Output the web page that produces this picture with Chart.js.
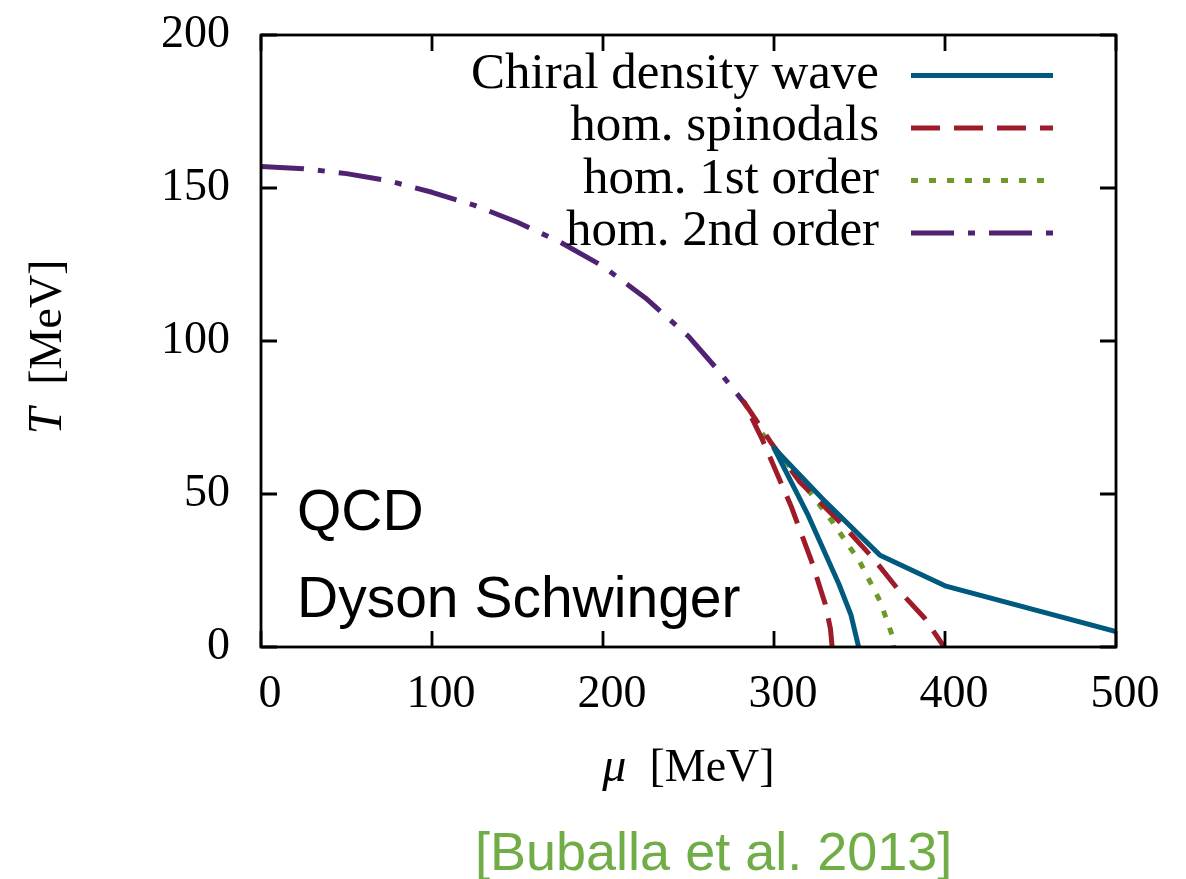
<!DOCTYPE html>
<html>
<head>
<meta charset="utf-8">
<title>QCD phase diagram - Dyson Schwinger</title>
<style>
    html, body { margin: 0; padding: 0; background: #fff; }
    #phase { display: block; }
</style>
<script src="https://cdn.jsdelivr.net/npm/chart.js@4.4.1/dist/chart.umd.min.js"></script>
</head>
<body>
<canvas id="phase" width="1186" height="879"></canvas>
<script>
"use strict";

// axes
var muTicks = [ 0, 100, 200, 300, 400, 500 ];
var tTicks  = [ 0, 50, 100, 150, 200 ];

// series names (legend order)
var seriesNames = [ "Chiral density wave", "hom. spinodals", "hom. 1st order", "hom. 2nd order" ];

// chiral density wave: lower branch up to the tip, then the upper branch out to 500
var cdwMu = [ 349.5, 345, 338, 320, 300, 330, 362, 400, 500 ];
var cdwT  = [ 0, 10.5, 20.5, 43, 65, 47.5, 30, 20, 5 ];

// homogeneous spinodals: left branch up to the critical point, then right branch down
var spinMu = [ 334, 333, 330, 322, 310, 293, 282.5, 298, 315, 340, 358, 373, 388, 399.5 ];
var spinT  = [ 0, 6, 14, 28, 46, 68, 80, 67, 54, 40, 29, 18.5, 9.5, 0 ];

// homogeneous first order line
var firstMu = [ 282.5, 292, 315, 334, 350, 362, 369, 370 ];
var firstT  = [ 80, 70.5, 55, 41, 28, 15, 4, 0 ];

// homogeneous second order line
var secondMu = [ 0, 25, 50, 75, 100, 125, 150, 175, 200, 225, 250, 268, 283 ];
var secondT  = [ 157, 156.3, 154.7, 152.3, 148.6, 144.3, 138.8, 132.3, 124.4, 114, 101.5, 90, 79.5 ];

var serif = "'Liberation Serif', 'Times New Roman', serif";
var sans  = "'Liberation Sans', Arial, sans-serif";

function toPoints(xs, ys) {
    return xs.map(function (x, i) {
        return { x: x, y: ys[ i ] };
    });
}

// frame with inward ticks on all four sides (gnuplot style)
var framePlugin = {
    id: "frame",
    afterDatasetsDraw: function (chart) {
        var ctx = chart.ctx, a = chart.chartArea;
        var xs = chart.scales.x, ys = chart.scales.y;
        var tick = 16;
        ctx.save();
        ctx.strokeStyle = "#000";
        ctx.lineWidth = 2.8;
        ctx.beginPath();
        muTicks.forEach(function (v) {
            var px = xs.getPixelForValue(v);
            ctx.moveTo(px, a.bottom); ctx.lineTo(px, a.bottom - tick);
            ctx.moveTo(px, a.top);    ctx.lineTo(px, a.top + tick);
        });
        tTicks.forEach(function (v) {
            var py = ys.getPixelForValue(v);
            ctx.moveTo(a.left, py);  ctx.lineTo(a.left + tick, py);
            ctx.moveTo(a.right, py); ctx.lineTo(a.right - tick, py);
        });
        ctx.stroke();
        ctx.strokeRect(a.left, a.top, a.right - a.left, a.bottom - a.top);
        ctx.restore();
    }
};

// key in the upper right, text left of the sample line
var keyPlugin = {
    id: "key",
    afterDraw: function (chart) {
        var ctx = chart.ctx;
        ctx.save();
        chart.data.datasets.forEach(function (ds, i) {
            var y = 75.5 + i * 52.5;
            ctx.font = "51px " + serif;
            ctx.fillStyle = "#000";
            ctx.textAlign = "right";
            ctx.textBaseline = "alphabetic";
            ctx.fillText(ds.label, 879, y + 12);
            ctx.strokeStyle = ds.borderColor;
            ctx.lineWidth = ds.borderWidth;
            ctx.lineCap = "butt";
            ctx.setLineDash(ds.borderDash || []);
            ctx.beginPath();
            ctx.moveTo(911, y);
            ctx.lineTo(1053, y);
            ctx.stroke();
        });
        ctx.restore();
    }
};

// axis titles and annotations
var labelPlugin = {
    id: "labels",
    afterDraw: function (chart) {
        var ctx = chart.ctx, a = chart.chartArea;
        ctx.save();
        ctx.fillStyle = "#000";
        ctx.textBaseline = "alphabetic";
        ctx.textAlign = "left";

        // x title: italic mu + [MeV]
        var it = "italic 48px " + serif, rm = "46px " + serif;
        ctx.font = it;
        var w1 = ctx.measureText("\u03bc").width;
        ctx.font = rm;
        var w2 = ctx.measureText("  [MeV]").width;
        var x0 = (a.left + a.right) / 2 - (w1 + w2) / 2;
        ctx.font = it;
        ctx.fillText("\u03bc", x0, 781);
        ctx.font = rm;
        ctx.fillText("  [MeV]", x0 + w1, 781);

        // y title, rotated
        ctx.save();
        ctx.translate(61, (a.top + a.bottom) / 2 + 6);
        ctx.rotate(-Math.PI / 2);
        ctx.font = it;
        var v1 = ctx.measureText("T").width;
        ctx.font = rm;
        var v2 = ctx.measureText("  [MeV]").width;
        var y0 = -(v1 + v2) / 2;
        ctx.font = it;
        ctx.fillText("T", y0, 0);
        ctx.font = rm;
        ctx.fillText("  [MeV]", y0 + v1, 0);
        ctx.restore();

        ctx.font = "57px " + sans;
        ctx.fillText("QCD", 297, 530);
        ctx.fillText("Dyson Schwinger", 297, 617);

        ctx.font = "54px " + sans;
        ctx.fillStyle = "#70ad47";
        ctx.fillText("[Buballa et al. 2013]", 475, 870);
        ctx.restore();
    }
};

var PhaseDiagram = function () {
    "use strict";

    var build = function () {
        var colors = [ "#005a7d", "#9e1b2a", "#6b9a28", "#4f2371" ];
        var dashes = [ [], [ 29, 14 ], [ 7, 11 ], [ 43, 14, 7, 14 ] ];
        var series = [
            toPoints(cdwMu, cdwT),
            toPoints(spinMu, spinT),
            toPoints(firstMu, firstT),
            toPoints(secondMu, secondT)
        ];

        var datasets = series.map(function (pts, i) {
            return {
                label          : seriesNames[ i ],
                data           : pts,
                showLine       : true,
                borderColor    : colors[ i ],
                backgroundColor: colors[ i ],
                borderWidth    : 5,
                borderDash     : dashes[ i ],
                borderCapStyle : "butt",
                borderJoinStyle: "round",
                pointRadius    : 0,
                tension        : 0,
                fill           : false
            };
        });

        new Chart(document.getElementById("phase"), {
            type   : "scatter",
            data   : { datasets: datasets },
            plugins: [ framePlugin, keyPlugin, labelPlugin ],
            options: {
                responsive: false,
                animation : false,
                events    : [],
                layout    : {
                    padding: { left: 0, top: 35, right: 70, bottom: 0 }
                },
                plugins   : {
                    legend : { display: false },
                    tooltip: { enabled: false }
                },
                scales    : {
                    x: {
                        type    : "linear",
                        min     : 0,
                        max     : 500,
                        afterBuildTicks: function (scale) {
                            scale.ticks = muTicks.map(function (v) { return { value: v }; });
                        },
                        afterFit: function (scale) {
                            scale.height = 232;
                            scale.paddingLeft = 0;
                            scale.paddingRight = 0;
                        },
                        grid    : { display: false, drawTicks: false },
                        border  : { display: false },
                        ticks   : {
                            padding    : 20,
                            labelOffset: 9,
                            color      : "#000",
                            font       : { family: serif, size: 46 },
                            maxRotation: 0
                        }
                    },
                    y: {
                        type    : "linear",
                        min     : 0,
                        max     : 200,
                        afterBuildTicks: function (scale) {
                            scale.ticks = tTicks.map(function (v) { return { value: v }; });
                        },
                        afterFit: function (scale) {
                            scale.width = 261;
                            scale.paddingTop = 0;
                            scale.paddingBottom = 0;
                        },
                        grid    : { display: false, drawTicks: false },
                        border  : { display: false },
                        ticks   : {
                            padding: 31,
                            color  : "#000",
                            font   : { family: serif, size: 46 }
                        }
                    }
                }
            }
        });
    };

    return {
        init: function () {
            build();
        }
    };
}();

PhaseDiagram.init();
</script>
</body>
</html>
